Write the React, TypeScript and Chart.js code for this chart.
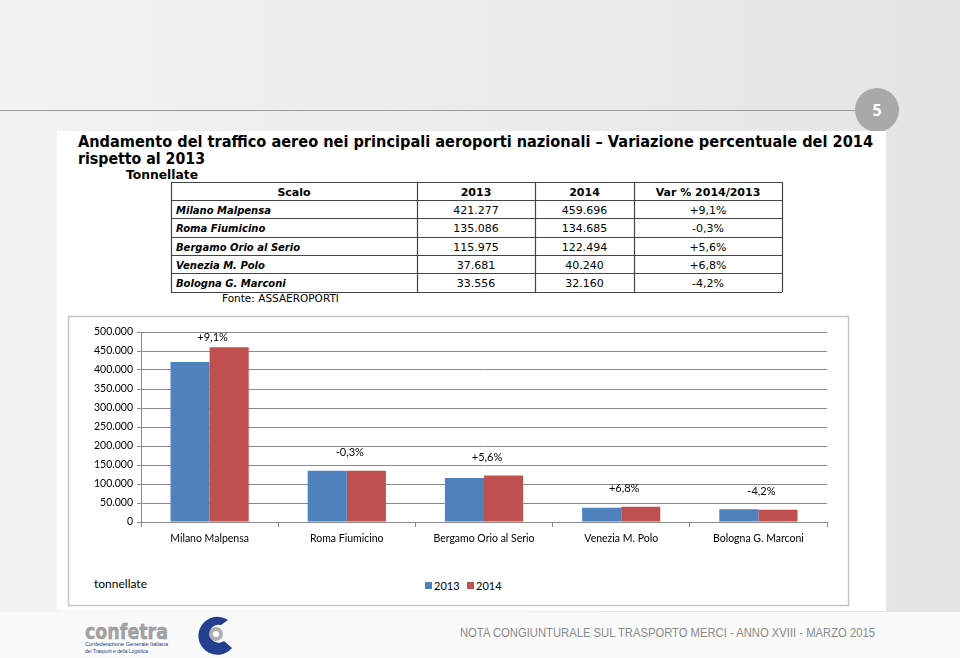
import React, { useEffect, useRef } from "react";
import { Chart, registerables } from "chart.js";

Chart.register(...registerables);

// ---- data ----
const categories = [
  "Milano Malpensa",
  "Roma Fiumicino",
  "Bergamo Orio al Serio",
  "Venezia M. Polo",
  "Bologna G. Marconi",
];
const values2013 = [421277, 135086, 115975, 37681, 33556];
const values2014 = [459696, 134685, 122494, 40240, 32160];
const variations = ["+9,1%", "-0,3%", "+5,6%", "+6,8%", "-4,2%"];
const seriesLabels = ["2013", "2014"];
const tableHeaders = ["Scalo", "2013", "2014", "Var % 2014/2013"];
const yMax = 500000;
const yStep = 50000;

const BLUE = "#4f81bd";
const RED = "#c0504d";
const GRID = "#8a8a8a";
const CHART_FONT = "Lato, 'Open Sans', sans-serif";

const fmt = (n: number) =>
  Math.round(n)
    .toString()
    .replace(/\B(?=(\d{3})+(?!\d))/g, ".");

const variationLabels = {
  id: "variationLabels",
  afterDatasetsDraw(chart: any) {
    const { ctx, chartArea } = chart;
    const x = chart.scales.x;
    const y = chart.scales.y;
    ctx.save();
    ctx.font = `11px ${CHART_FONT}`;
    ctx.fillStyle = "#000";
    ctx.textAlign = "center";
    ctx.textBaseline = "middle";
    variations.forEach((t, i) => {
      const top = y.getPixelForValue(Math.max(values2013[i], values2014[i]));
      const py = Math.max(top - 18, chartArea.top + 5);
      ctx.fillText(t, x.getPixelForValue(i) + 3, py);
    });
    ctx.restore();
  },
};

function BarChart() {
  const ref = useRef<HTMLCanvasElement>(null);
  useEffect(() => {
    if (!ref.current) return;
    const chart = new Chart(ref.current, {
      type: "bar",
      data: {
        labels: categories,
        datasets: [
          {
            label: seriesLabels[0],
            data: values2013,
            backgroundColor: BLUE,
            categoryPercentage: 0.57,
            barPercentage: 1,
          },
          {
            label: seriesLabels[1],
            data: values2014,
            backgroundColor: RED,
            categoryPercentage: 0.57,
            barPercentage: 1,
          },
        ],
      },
      options: {
        animation: false,
        responsive: false,
        maintainAspectRatio: false,
        layout: { padding: { left: 0, right: 21, top: 14, bottom: 0 } },
        plugins: { legend: { display: false }, tooltip: { enabled: false } },
        scales: {
          x: {
            grid: {
              display: true,
              drawOnChartArea: false,
              drawTicks: true,
              tickLength: 5,
              color: GRID,
              offset: true,
            },
            border: { color: GRID },
            ticks: {
              color: "#000",
              font: { family: CHART_FONT, size: 10.5 },
              padding: 5,
              maxRotation: 0,
              autoSkip: false,
            },
            afterFit: (s: any) => {
              s.height = 83;
            },
          },
          y: {
            min: 0,
            max: yMax,
            ticks: {
              stepSize: yStep,
              callback: (v: any) => fmt(Number(v)),
              color: "#000",
              font: { family: CHART_FONT, size: 10.5 },
              padding: 4,
            },
            grid: { color: GRID, tickLength: 4, drawTicks: true },
            border: { color: GRID },
            afterFit: (s: any) => {
              s.width = 73;
            },
          },
        },
      },
      plugins: [variationLabels],
    });
    return () => chart.destroy();
  }, []);
  return (
    <canvas
      ref={ref}
      width={780}
      height={287}
      style={{ position: "absolute", left: 68, top: 318, width: 780, height: 287 }}
    />
  );
}

const colX = [171, 417, 535, 634, 782];
const rowY = [182, 200, 218, 237, 255, 273, 292];

function Slide() {
  const vf = "'DejaVu Sans', Verdana, sans-serif";
  const rows = categories.map((c, i) => [c, fmt(values2013[i]), fmt(values2014[i]), variations[i]]);
  return (
    <svg width={960} height={658} style={{ position: "absolute", left: 0, top: 0 }}>
      <defs>
        <linearGradient id="bg" x1="0" y1="0" x2="1" y2="0">
          <stop offset="0" stopColor="#f2f2f2" />
          <stop offset="0.6" stopColor="#ebebeb" />
          <stop offset="1" stopColor="#e4e4e4" />
        </linearGradient>
      </defs>
      <rect x={0} y={0} width={960} height={658} fill="url(#bg)" />
      <rect x={0} y={612} width={960} height={46} fill="#fafafa" />
      <line x1={0} y1={110.5} x2={856} y2={110.5} stroke="#9a9a9a" strokeWidth={1} />
      <circle cx={877} cy={110} r={22} fill="#a9a9a9" />
      <text x={877} y={116} textAnchor="middle" fontFamily="'Open Sans', sans-serif" fontWeight="bold" fontSize={16} fill="#fff">5</text>
      {/* white panel */}
      <rect x={57} y={131} width={829} height={480} fill="#fff" />
      {/* title */}
      <text x={78} y={147} fontFamily={vf} fontWeight="bold" fontSize={16} textLength={795} lengthAdjust="spacingAndGlyphs">
        Andamento del traffico aereo nei principali aeroporti nazionali – Variazione percentuale del 2014
      </text>
      <text x={78} y={164} fontFamily={vf} fontWeight="bold" fontSize={16} textLength={127} lengthAdjust="spacingAndGlyphs">
        rispetto al 2013
      </text>
      <text x={126} y={179} fontFamily={vf} fontWeight="bold" fontSize={13} textLength={72} lengthAdjust="spacingAndGlyphs">
        Tonnellate
      </text>
      {/* table */}
      {rowY.map((y, i) => (
        <line key={"h" + i} x1={colX[0]} y1={y + 0.5} x2={colX[4]} y2={y + 0.5} stroke="#444" strokeWidth={1.2} />
      ))}
      {colX.map((x, i) => (
        <line key={"v" + i} x1={x + 0.5} y1={rowY[0]} x2={x + 0.5} y2={rowY[6]} stroke="#444" strokeWidth={1.2} />
      ))}
      {tableHeaders.map((h, j) => (
        <text key={"th" + j} x={(colX[j] + colX[j + 1]) / 2} y={rowY[0] + 13.5} textAnchor="middle" fontFamily={vf} fontWeight="bold" fontSize={11}>
          {h}
        </text>
      ))}
      {rows.map((r, i) =>
        r.map((cell, j) =>
          j === 0 ? (
            <text key={`c${i}${j}`} x={176} y={rowY[i + 1] + 13.5} fontFamily={vf} fontWeight="bold" fontStyle="italic" fontSize={10}>
              {cell}
            </text>
          ) : (
            <text key={`c${i}${j}`} x={(colX[j] + colX[j + 1]) / 2} y={rowY[i + 1] + 13.5} textAnchor="middle" fontFamily={vf} fontSize={11}>
              {cell}
            </text>
          )
        )
      )}
      <text x={222} y={302} fontFamily={vf} fontSize={10.5}>Fonte: ASSAEROPORTI</text>
      {/* chart box */}
      <rect x={68.5} y={316.5} width={780} height={289} fill="#fff" stroke="#c4c4c4" strokeWidth={1.5} />
      <text x={94} y={588} fontFamily={CHART_FONT} fontSize={12}>tonnellate</text>
      <rect x={425} y={582} width={7} height={7} fill={BLUE} />
      <text x={434} y={589.5} fontFamily={CHART_FONT} fontSize={11}>{seriesLabels[0]}</text>
      <rect x={467} y={582} width={7} height={7} fill={RED} />
      <text x={476} y={589.5} fontFamily={CHART_FONT} fontSize={11}>{seriesLabels[1]}</text>
      {/* footer */}
      <text x={85} y={639} fontFamily="'DejaVu Sans', sans-serif" fontWeight="bold" fontSize={21} fill="#a3a3a3" stroke="#8e8e8e" strokeWidth={0.4} textLength={83} lengthAdjust="spacingAndGlyphs">
        confetra
      </text>
      <text x={85} y={646} fontFamily="'Liberation Sans', sans-serif" fontSize={6} fill="#233b7a" textLength={83} lengthAdjust="spacingAndGlyphs">
        Confederazione Generale Italiana
      </text>
      <text x={85} y={653} fontFamily="'Liberation Sans', sans-serif" fontSize={6} fill="#233b7a" textLength={63} lengthAdjust="spacingAndGlyphs">
        dei Trasporti e della Logistica
      </text>
      <path d="M 228 620 A 19 19 0 1 0 232 648 L 224 641 A 9 9 0 1 1 221 625 Z" fill="#22408f" />
      <circle cx={216} cy={634} r={7} fill="#b0b0b0" />
      <circle cx={216} cy={634} r={3} fill="#fff" />
      <text x={460} y={637} fontFamily="'Liberation Sans', sans-serif" fontSize={12.5} fill="#8a8a8a" textLength={415} lengthAdjust="spacingAndGlyphs">
        NOTA CONGIUNTURALE SUL TRASPORTO MERCI - ANNO XVIII - MARZO 2015
      </text>
    </svg>
  );
}

export default function App() {
  return (
    <div style={{ position: "fixed", left: 0, top: 0, width: 960, height: 658, overflow: "hidden" }}>
      <Slide />
      <BarChart />
    </div>
  );
}
